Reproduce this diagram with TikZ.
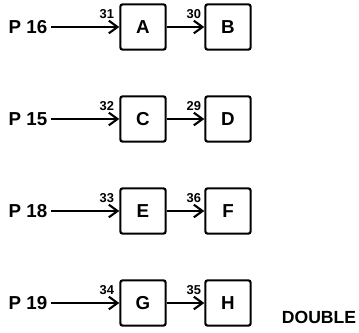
\documentclass[tikz,border=0pt]{standalone}
\usepackage{fontspec}
\setmainfont{Liberation Sans}
\usetikzlibrary{arrows.meta, positioning, calc}

\begin{document}
\begin{tikzpicture}[x=0.03cm, y=0.03cm,
  blk/.style={draw, line width=1.8pt, rounded corners=2pt, minimum size=1.36cm, inner sep=0pt, font=\fontsize{16}{18}\selectfont\bfseries},
  wire/.style={line width=1.8pt, -{Straight Barb[length=2.6mm, width=3.8mm]}},
  num/.style={anchor=south east, inner sep=0pt, font=\fontsize{11}{12}\selectfont\bfseries},
  plbl/.style={font=\fontsize{16}{18}\selectfont\bfseries}]
\useasboundingbox (0,0) rectangle (359,333);
% one row per input: P label, two boxes, two numbered wires
\foreach \y/\p/\a/\b/\na/\nb in {306/16/A/B/31/30, 214/15/C/D/32/29, 122/18/E/F/33/36, 30/19/G/H/34/35} {
    \node[plbl] (p\p) at (28,\y) {P \p};
    \node[blk] (\a) at (143,\y) {\a};
    \node[blk] (\b) at (228,\y) {\b};
    \draw[wire] (p\p.east) -- (\a.west);
    \draw[wire] (\a.east) -- (\b.west);
    \node[num] (n\na) at ($(\a.west)+(-5,8)$) {\na};
    \node[num] (n\nb) at ($(\b.west)+(-3,8)$) {\nb};
}
% note at bottom right
\node[font=\fontsize{15}{18}\selectfont\bfseries] (dbl) at (319,16) {DOUBLE};
\end{tikzpicture}
\end{document}
